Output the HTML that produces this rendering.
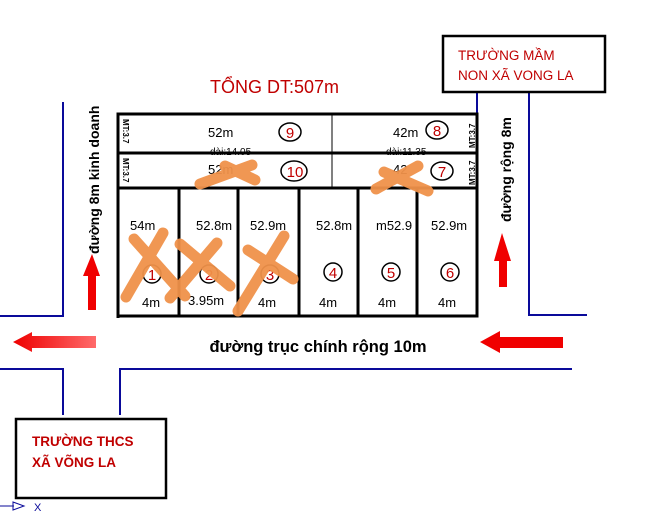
<!DOCTYPE html>
<html><head><meta charset="utf-8"><style>
html,body{margin:0;padding:0;background:#fff;}
svg{display:block;}
text{font-family:"Liberation Sans","DejaVu Sans",sans-serif;}
</style></head><body>
<svg width="649" height="518" viewBox="0 0 649 518" xmlns="http://www.w3.org/2000/svg">
<defs>
<linearGradient id="g1" x1="0" x2="1" y1="0" y2="0"><stop offset="0" stop-color="#ee0000"/><stop offset="1" stop-color="#ff6a6a"/></linearGradient>
</defs>
<!-- roads -->
<g stroke="#0a0a9a" stroke-width="2" fill="none">
<polyline points="63,102 63,316 0,316"/>
<polyline points="0,369 63,369 63,415"/>
<polyline points="120,415 120,369 572,369"/>
<polyline points="477,92 477,118"/>
<polyline points="529,92 529,315 587,315"/>
</g>
<!-- top box -->
<rect x="443" y="36" width="162" height="56" fill="#fff" stroke="#000" stroke-width="2.5"/>
<text x="458" y="60" font-size="13.5" fill="#c00000">TRƯỜNG MẦM</text>
<text x="458" y="80" font-size="13.5" fill="#c00000">NON XÃ VONG LA</text>
<!-- bottom box -->
<rect x="16" y="419" width="150" height="79" fill="#fff" stroke="#000" stroke-width="2.5"/>
<text x="32" y="446" font-size="13.5" font-weight="bold" fill="#c00000">TRƯỜNG THCS</text>
<text x="32" y="467" font-size="13.5" font-weight="bold" fill="#c00000">XÃ VÕNG LA</text>
<line x1="0" y1="506" x2="14" y2="506" stroke="#0a0a9a" stroke-width="1"/>
<path d="M13,502 L24,506 L13,510 Z" fill="none" stroke="#0a0a9a" stroke-width="1"/>
<text x="34" y="511" font-size="11" fill="#0a0a9a">X</text>
<!-- title -->
<text x="210" y="93" font-size="18" fill="#c00000">TỔNG DT:507m</text>
<!-- block -->
<g stroke="#000" stroke-width="3" fill="none">
<rect x="118" y="114" width="359" height="202"/>
<line x1="118" y1="153" x2="477" y2="153"/>
<line x1="118" y1="188" x2="477" y2="188"/>
<line x1="179" y1="188" x2="179" y2="316"/>
<line x1="238" y1="188" x2="238" y2="316"/>
<line x1="299" y1="188" x2="299" y2="316"/>
<line x1="358" y1="188" x2="358" y2="316"/>
<line x1="417" y1="188" x2="417" y2="316"/>
</g>
<line x1="332" y1="114" x2="332" y2="188" stroke="#000" stroke-width="1"/>
<line x1="118" y1="135" x2="118" y2="318" stroke="#000" stroke-width="3" stroke-dasharray="1,1"/>
<!-- MT labels -->
<g font-size="8" font-weight="bold" fill="#000">
<text transform="translate(123,119) rotate(90)">MT:3.7</text>
<text transform="translate(123,158) rotate(90)">MT:3.7</text>
<text transform="translate(475,148) rotate(-90)">MT:3.7</text>
<text transform="translate(475,185) rotate(-90)">MT:3.7</text>
</g>
<g font-size="13" fill="#000">
<text x="208" y="137">52m</text>
<text x="393" y="137">42m</text>
<text x="210" y="155" font-size="10">dài:14.05</text>
<text x="386" y="155" font-size="10">dài:11.35</text>
<text x="208" y="174">52m</text>
<text x="393" y="174">42</text>
<text x="130" y="230">54m</text>
<text x="196" y="230">52.8m</text>
<text x="250" y="230">52.9m</text>
<text x="316" y="230">52.8m</text>
<text x="376" y="230">m52.9</text>
<text x="431" y="230">52.9m</text>
<text x="142" y="307">4m</text>
<text x="188" y="305">3.95m</text>
<text x="258" y="307">4m</text>
<text x="319" y="307">4m</text>
<text x="378" y="307">4m</text>
<text x="438" y="307">4m</text>
</g>
<!-- circles -->
<g fill="none" stroke="#000" stroke-width="1.5">
<ellipse cx="290" cy="132" rx="11" ry="9"/>
<ellipse cx="437" cy="130" rx="11" ry="9"/>
<ellipse cx="294" cy="171" rx="13" ry="10"/>
<ellipse cx="442" cy="171" rx="11" ry="9"/>
<circle cx="152" cy="274" r="9"/>
<circle cx="209" cy="274" r="9"/>
<circle cx="270" cy="274" r="9"/>
<circle cx="333" cy="272" r="9"/>
<circle cx="391" cy="272" r="9"/>
<circle cx="450" cy="272" r="9"/>
</g>
<g font-size="15" fill="#c00000" text-anchor="middle">
<text x="290" y="138">9</text>
<text x="437" y="136">8</text>
<text x="295" y="177">10</text>
<text x="442" y="177">7</text>
<text x="152" y="280">1</text>
<text x="209" y="280">2</text>
<text x="270" y="280">3</text>
<text x="333" y="278">4</text>
<text x="391" y="278">5</text>
<text x="450" y="278">6</text>
</g>
<!-- orange X marks -->
<g stroke="#f0924a" stroke-width="11" stroke-linecap="round" opacity="0.95">
<line x1="200" y1="184" x2="252" y2="165"/><line x1="225" y1="166" x2="255" y2="180"/>
<line x1="376" y1="189" x2="418" y2="166"/><line x1="384" y1="172" x2="428" y2="191"/>
<line x1="126" y1="297" x2="163" y2="233"/><line x1="134" y1="239" x2="185" y2="296"/>
<line x1="170" y1="298" x2="217" y2="243"/><line x1="180" y1="244" x2="230" y2="286"/>
<line x1="238" y1="311" x2="284" y2="236"/><line x1="248" y1="250" x2="293" y2="279"/>
</g>
<!-- road labels -->
<text x="0" y="0" font-size="14" font-weight="bold" fill="#000" transform="translate(99,254) rotate(-90)">đường 8m kinh doanh</text>
<text x="0" y="0" font-size="14" font-weight="bold" fill="#000" transform="translate(511,222) rotate(-90)">đường rộng 8m</text>
<text x="318" y="352" font-size="16.5" font-weight="bold" fill="#000" text-anchor="middle">đường trục chính rộng 10m</text>
<!-- arrows -->
<path d="M13,342 L32,332 L32,336 L96,336 L96,348 L32,348 L32,352 Z" fill="url(#g1)"/>
<path d="M480,342 L500,331 L500,337 L563,337 L563,348 L500,348 L500,353 Z" fill="#f00000"/>
<path d="M92,254 L100,276 L96,276 L96,310 L88,310 L88,276 L83,276 Z" fill="#f00000"/>
<path d="M502,233 L511,261 L507,261 L507,287 L499,287 L499,261 L494,261 Z" fill="#f00000"/>
</svg>
</body></html>
